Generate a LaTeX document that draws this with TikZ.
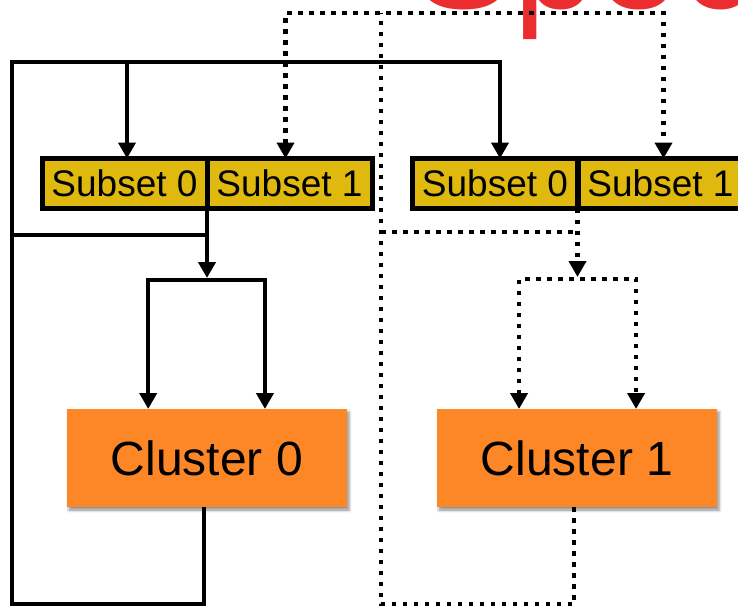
\documentclass[tikz,border=0pt]{standalone}
\usepackage{fontspec}
\setmainfont{Liberation Sans}
\usetikzlibrary{arrows.meta,shadows.blur,calc}
\definecolor{subsetfill}{RGB}{223,185,14}
\definecolor{clusterfill}{RGB}{253,134,39}
\definecolor{titlered}{RGB}{236,45,48}
\begin{document}
\begin{tikzpicture}[x=1pt,y=-1pt,
  flow/.style={line width=4.5pt,draw=black},
  dotflow/.style={line width=4.5pt,draw=black,line cap=butt,dash pattern=on 4.5pt off 6.5pt},
  tip/.style={-{Triangle[length=16pt,width=17pt]}},
  tips/.style={{Triangle[length=16pt,width=17pt]}-{Triangle[length=16pt,width=17pt]}},
  subset/.style={draw=black,line width=5pt,fill=subsetfill,minimum width=165pt,
    minimum height=50pt,inner sep=0pt,outer sep=0pt,font=\fontsize{37}{40}\selectfont},
  cluster/.style={fill=clusterfill,minimum width=280pt,minimum height=98pt,inner sep=0pt,
    outer sep=0pt,font=\fontsize{48}{52}\selectfont,
    blur shadow={shadow xshift=2pt,shadow yshift=-3pt,shadow blur radius=3pt,shadow opacity=45}}
]
\useasboundingbox (0,0) rectangle (738,608);
\clip (0,0) rectangle (738,608);

% heading, mostly above the frame
\node[anchor=base west,text=titlered,inner sep=0pt,font=\fontsize{150}{150}\selectfont] (title) at (413,8) {Spec};

% subsets
\node[subset] (s00) at (124.5,183.5) {Subset 0};
\node[subset] (s01) at (289.5,183.5) {Subset 1};
\node[subset] (s10) at (495,183.5) {Subset 0};
\node[subset] (s11) at (660.5,183.5) {Subset 1};

% clusters
\node[cluster] (c0) at (207,458) {Cluster 0};
\node[cluster] (c1) at (577,458) {Cluster 1};

% routing points
\coordinate (loopTL) at (12,62);
\coordinate (loopBL) at (12,604);
\coordinate (feedL) at (12,235);
\coordinate (brTop0) at (207,280);
\coordinate (dTop) at (381,13);
\coordinate (dBot) at (381,604);
\coordinate (dFeed) at (381,232);
\coordinate (brTop1) at (578,279);
\coordinate (c0a) at ($(c0.north west)!0.29!(c0.north east)$);
\coordinate (c0b) at ($(c0.north west)!0.707!(c0.north east)$);
\coordinate (c1a) at ($(c1.north west)!0.293!(c1.north east)$);
\coordinate (c1b) at ($(c1.north west)!0.711!(c1.north east)$);

% solid loop: cluster 0 back to the subsets
\draw[flow,tip] ([xshift=-3pt]c0.south) |- (loopBL) -- (loopTL) -| ([xshift=5pt]s10.north);
\draw[flow,tip] ([xshift=2.5pt]s00.north |- loopTL) -- ([xshift=2.5pt]s00.north);
\draw[flow] (feedL) -- (feedL -| s00.south east);
\draw[flow,tip,shorten >=2pt] (s00.south east) -- (s00.south east |- brTop0);
\draw[flow,tips] (c0a) |- (brTop0) -| (c0b);

% dotted loop: cluster 1 back to the subsets
\draw[dotflow,tips] ([xshift=-4pt]s01.north) |- (dTop) -| ([xshift=3pt]s11.north);
\draw[dotflow] ([xshift=-3pt]c1.south) |- (dBot) -- (dTop);
\draw[dotflow] (dFeed) -- (dFeed -| s10.south east);
\draw[dotflow,tip,shorten >=2pt] (s10.south east) -- (s10.south east |- brTop1);
\draw[dotflow,tips] (c1a) |- (brTop1) -| (c1b);
\end{tikzpicture}
\end{document}
